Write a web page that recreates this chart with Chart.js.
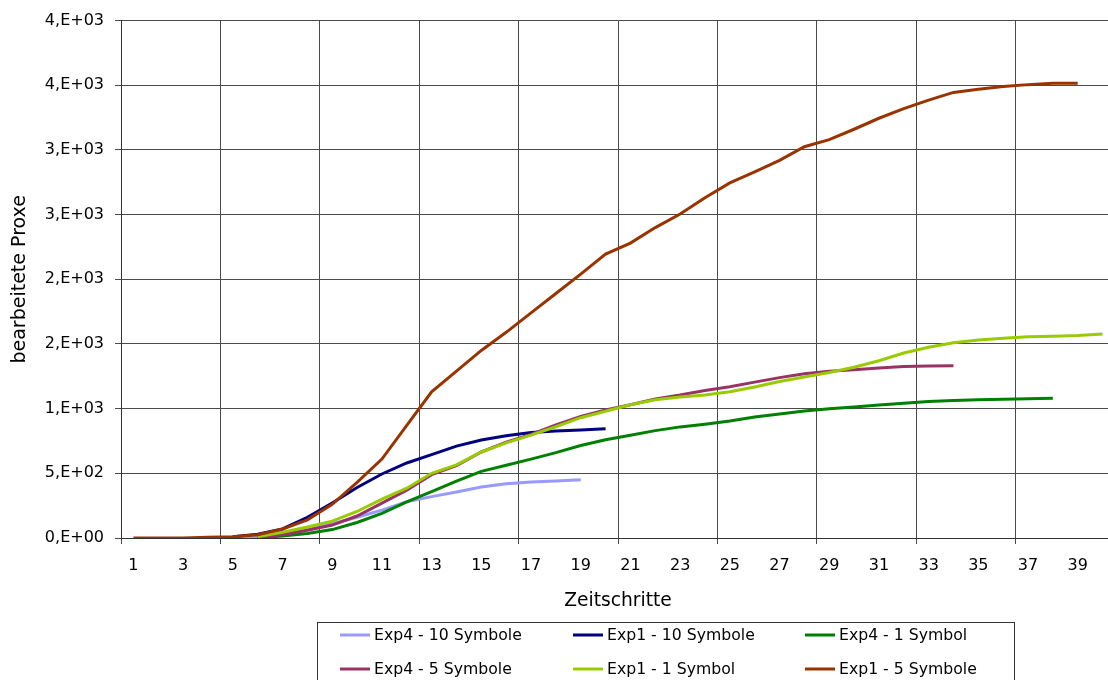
<!DOCTYPE html>
<html>
<head>
<meta charset="utf-8">
<script src="https://cdn.jsdelivr.net/npm/chart.js@4/dist/chart.umd.min.js"></script>
<style>
  html, body { margin: 0; padding: 0; background: #ffffff; overflow: hidden; }
  #wrap { width: 1116px; height: 680px; }
</style>
</head>
<body>
<div id="wrap"><canvas id="chart" width="1116" height="680"></canvas></div>
<script>
// Zeitschritte 1..40
const steps = [1,2,3,4,5,6,7,8,9,10,11,12,13,14,15,16,17,18,19,20,
               21,22,23,24,25,26,27,28,29,30,31,32,33,34,35,36,37,38,39,40];

// y-axis tick labels in Excel "0,E+00" notation (0 .. 4000, step 500)
const yTickValues = [0, 500, 1000, 1500, 2000, 2500, 3000, 3500, 4000];
const yTickLabels = ['0,E+00','5,E+02','1,E+03','2,E+03','2,E+03','3,E+03','3,E+03','4,E+03','4,E+03'];

const seriesNames = ['Exp4 - 10 Symbole','Exp1 - 10 Symbole','Exp4 - 1 Symbol',
                     'Exp4 - 5 Symbole','Exp1 - 1 Symbol','Exp1 - 5 Symbole'];
const seriesColors = ['#9999FF','#000080','#008000','#993366','#99CC00','#993300'];

// processed items per time step (null = no value at that step)
const exp4_10 = [null,null,null,null,
  2,10,30,65,110,160,215,280,320,355,395,420,432,440,450,
  null,null,null,null,null,null,null,null,null,null,null,null,null,null,null,null,null,null,null,null,null];

const exp1_10 = [null,null,null,null,
  10,30,70,160,270,390,495,580,645,710,758,790,815,828,835,845,
  null,null,null,null,null,null,null,null,null,null,null,null,null,null,null,null,null,null,null,null];

const exp4_1 = [null,null,null,null,null,
  3,15,35,65,120,190,280,358,440,515,562,610,660,715,760,
  795,830,859,880,905,935,958,982,1000,1012,1028,1042,1055,1063,1068,1072,1076,1080,
  null,null];

const exp4_5 = [null,null,null,null,null,
  5,25,60,100,170,270,370,490,560,665,740,800,875,940,990,
  1030,1075,1105,1140,1170,1205,1240,1270,1290,1300,1315,1325,1330,1332,
  null,null,null,null,null,null];

const exp1_1 = [null,null,null,null,null,
  10,45,85,130,205,300,385,500,565,665,735,795,860,930,980,
  1030,1068,1090,1105,1130,1168,1210,1245,1279,1320,1370,1430,1475,1510,1530,1545,1555,1560,1565,1578];

const exp1_5 = [0,0,0,5,10,25,70,140,260,430,610,870,1130,1290,1450,1590,1740,1890,2040,2195,
  2280,2400,2505,2630,2745,2830,2920,3025,3080,3160,3245,3320,3385,3445,3470,3490,3505,3515,3515,
  null];

const seriesValues = [exp4_10, exp1_10, exp4_1, exp4_5, exp1_1, exp1_5];

const GRID = '#4a4a4a';
const FONT = 'DejaVu Sans';

// Boxed three-column legend below the axis title
const boxLegend = {
  id: 'boxLegend',
  afterDraw(chart) {
    const ctx = chart.ctx;
    ctx.save();
    ctx.strokeStyle = '#333333';
    ctx.lineWidth = 1;
    ctx.strokeRect(317.5, 622.5, 697, 90);
    const colX = [340, 573, 805];
    const rowY = [635, 669];
    ctx.font = '15.7px "' + FONT + '"';
    ctx.textBaseline = 'middle';
    ctx.textAlign = 'left';
    chart.data.datasets.forEach((ds, i) => {
      const x = colX[i % 3];
      const y = rowY[Math.floor(i / 3)];
      ctx.strokeStyle = ds.borderColor;
      ctx.lineWidth = 3;
      ctx.beginPath();
      ctx.moveTo(x, y);
      ctx.lineTo(x + 30, y);
      ctx.stroke();
      ctx.fillStyle = '#000000';
      ctx.fillText(ds.label, x + 34, y + 1);
    });
    ctx.restore();
  }
};

new Chart(document.getElementById('chart'), {
  type: 'line',
  data: {
    labels: steps.map(String),
    datasets: seriesValues.map((vals, i) => ({
      label: seriesNames[i],
      data: vals,
      borderColor: seriesColors[i],
      backgroundColor: seriesColors[i],
      borderWidth: 3,
      pointRadius: 0,
      tension: 0,
      fill: false,
      spanGaps: false,
      order: seriesValues.length - i
    }))
  },
  options: {
    responsive: false,
    devicePixelRatio: 1,
    animation: false,
    layout: { padding: { top: 19, right: 1, bottom: 68, left: 0 } },
    plugins: {
      legend: { display: false },
      tooltip: { enabled: false }
    },
    scales: {
      x: {
        type: 'category',
        offset: true,
        grid: {
          offset: true,
          drawOnChartArea: true,
          tickLength: 6,
          lineWidth: 1,
          color: (c) => (c.index % 4 === 0 ? GRID : 'rgba(0,0,0,0)')
        },
        border: { color: '#333333', width: 1 },
        ticks: {
          autoSkip: false,
          maxRotation: 0,
          minRotation: 0,
          padding: 12,
          color: '#000000',
          font: { family: FONT, size: 16 },
          callback: (v, i) => (i % 2 === 0 ? String(steps[i]) : '')
        },
        title: {
          display: true,
          text: 'Zeitschritte',
          color: '#000000',
          font: { family: FONT, size: 18.7 },
          padding: { top: 0, bottom: 0 }
        },
        afterFit: (s) => { s.height = 74; }
      },
      y: {
        min: 0,
        max: 4000,
        afterBuildTicks: (s) => { s.ticks = yTickValues.map(v => ({ value: v })); },
        grid: { color: GRID, tickLength: 6, lineWidth: 1 },
        border: { color: '#333333', width: 1 },
        ticks: {
          padding: 11,
          color: '#000000',
          font: { family: FONT, size: 16 },
          callback: (v) => yTickLabels[yTickValues.indexOf(v)]
        },
        title: {
          display: true,
          text: 'bearbeitete Proxe',
          color: '#000000',
          font: { family: FONT, size: 19 },
          padding: { top: 8.6, bottom: 0 }
        },
        afterFit: (s) => { s.width = 121; }
      }
    }
  },
  plugins: [boxLegend]
});
</script>
</body>
</html>
